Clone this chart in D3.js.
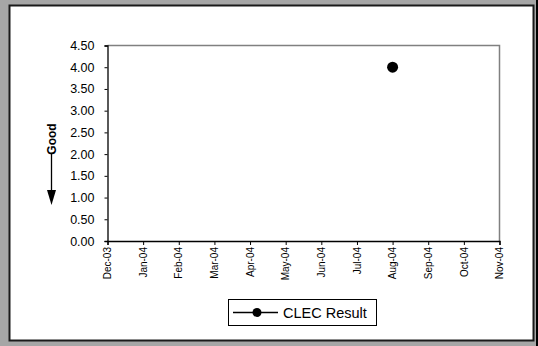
<!DOCTYPE html>
<html>
<head>
<meta charset="utf-8">
<script src="https://cdn.jsdelivr.net/npm/d3@7"></script>
<style>
  body { margin: 0; background: #a6a6a6; }
  svg { display: block; font-family: "Liberation Sans", Arial, sans-serif; }
</style>
</head>
<body>
<svg id="chart" width="538" height="346"></svg>
<script>
// chart data
var months = ["Dec-03","Jan-04","Feb-04","Mar-04","Apr-04","May-04","Jun-04","Jul-04","Aug-04","Sep-04","Oct-04","Nov-04"];
var clecMonths = ["Aug-04"];
var clecValues = [4.0];
var yTicks = [0, 0.5, 1, 1.5, 2, 2.5, 3, 3.5, 4, 4.5];

var svg = d3.select("#chart"),
    margin = {top: 45.5, left: 107.5, right: 39, bottom: 105},
    width = 499.5 - margin.left,
    height = 241 - margin.top;

// outer panel
svg.append("rect")
    .attr("x", 9.5).attr("y", 5.5)
    .attr("width", 524).attr("height", 335)
    .attr("fill", "#fff")
    .attr("stroke", "#1a1a1a")
    .attr("stroke-width", 2);
svg.append("line")
    .attr("x1", 537).attr("x2", 537)
    .attr("y1", 0).attr("y2", 346)
    .attr("stroke", "#000").attr("stroke-width", 2);

var x = d3.scalePoint().domain(months).range([0, width]);
var y = d3.scaleLinear().domain([0, 4.5]).range([height, 0]);

var g = svg.append("g")
    .attr("transform", "translate(" + margin.left + "," + margin.top + ")");

// plot frame (top/right grey)
g.append("path")
    .attr("d", "M0,0H" + width + "V" + height)
    .attr("fill", "none")
    .attr("stroke", "#808080")
    .attr("stroke-width", 1.5);

// y axis
var yAxis = g.append("g")
    .call(d3.axisLeft(y).tickValues(yTicks).tickFormat(d3.format(".2f")).tickSize(3).tickPadding(10));
yAxis.select(".domain").attr("stroke", "#000").attr("stroke-width", 1.3);
yAxis.selectAll("text").style("font-size", "12.5px").attr("fill", "#000");

// x axis
var xAxis = g.append("g")
    .attr("transform", "translate(0," + height + ")")
    .call(d3.axisBottom(x).tickSize(4).tickPadding(3));
xAxis.select(".domain").attr("stroke", "#000").attr("stroke-width", 1.3);
xAxis.selectAll("text")
    .style("font-size", "10px")
    .attr("fill", "#000")
    .attr("text-anchor", "end")
    .attr("transform", "rotate(-90)")
    .attr("x", -6)
    .attr("y", 0)
    .attr("dy", "0.32em");

// data points
var line = d3.line()
    .x(function(d, i) { return x(clecMonths[i]); })
    .y(function(d) { return y(d); });

g.append("path")
    .datum(clecValues)
    .attr("fill", "none")
    .attr("stroke", "#000")
    .attr("stroke-width", 1.5)
    .attr("d", line);

g.selectAll("circle.pt")
    .data(clecValues)
    .enter().append("circle")
    .attr("class", "pt")
    .attr("cx", function(d, i) { return x(clecMonths[i]); })
    .attr("cy", function(d) { return y(d); })
    .attr("r", 5.5)
    .attr("fill", "#000");

// "Good" label with down arrow
svg.append("text")
    .attr("transform", "translate(56,139) rotate(-90)")
    .attr("text-anchor", "middle")
    .style("font-size", "12px")
    .style("font-weight", "bold")
    .text("Good");
svg.append("line")
    .attr("x1", 51.5).attr("x2", 51.5)
    .attr("y1", 154).attr("y2", 192)
    .attr("stroke", "#000").attr("stroke-width", 1.3);
svg.append("path")
    .attr("d", "M47,190L56,190L51.5,205Z")
    .attr("fill", "#000");

// legend
var legend = svg.append("g").attr("transform", "translate(228.5,299.5)");
legend.append("rect")
    .attr("width", 148).attr("height", 26)
    .attr("fill", "#fff").attr("stroke", "#000");
legend.append("line")
    .attr("x1", 4.5).attr("x2", 49.5).attr("y1", 13).attr("y2", 13)
    .attr("stroke", "#000").attr("stroke-width", 1.5);
legend.append("circle")
    .attr("cx", 28.5).attr("cy", 13).attr("r", 4.5).attr("fill", "#000");
legend.append("text")
    .attr("x", 54.5).attr("y", 13).attr("dy", "0.35em")
    .style("font-size", "14.5px")
    .text("CLEC Result");
</script>
</body>
</html>
